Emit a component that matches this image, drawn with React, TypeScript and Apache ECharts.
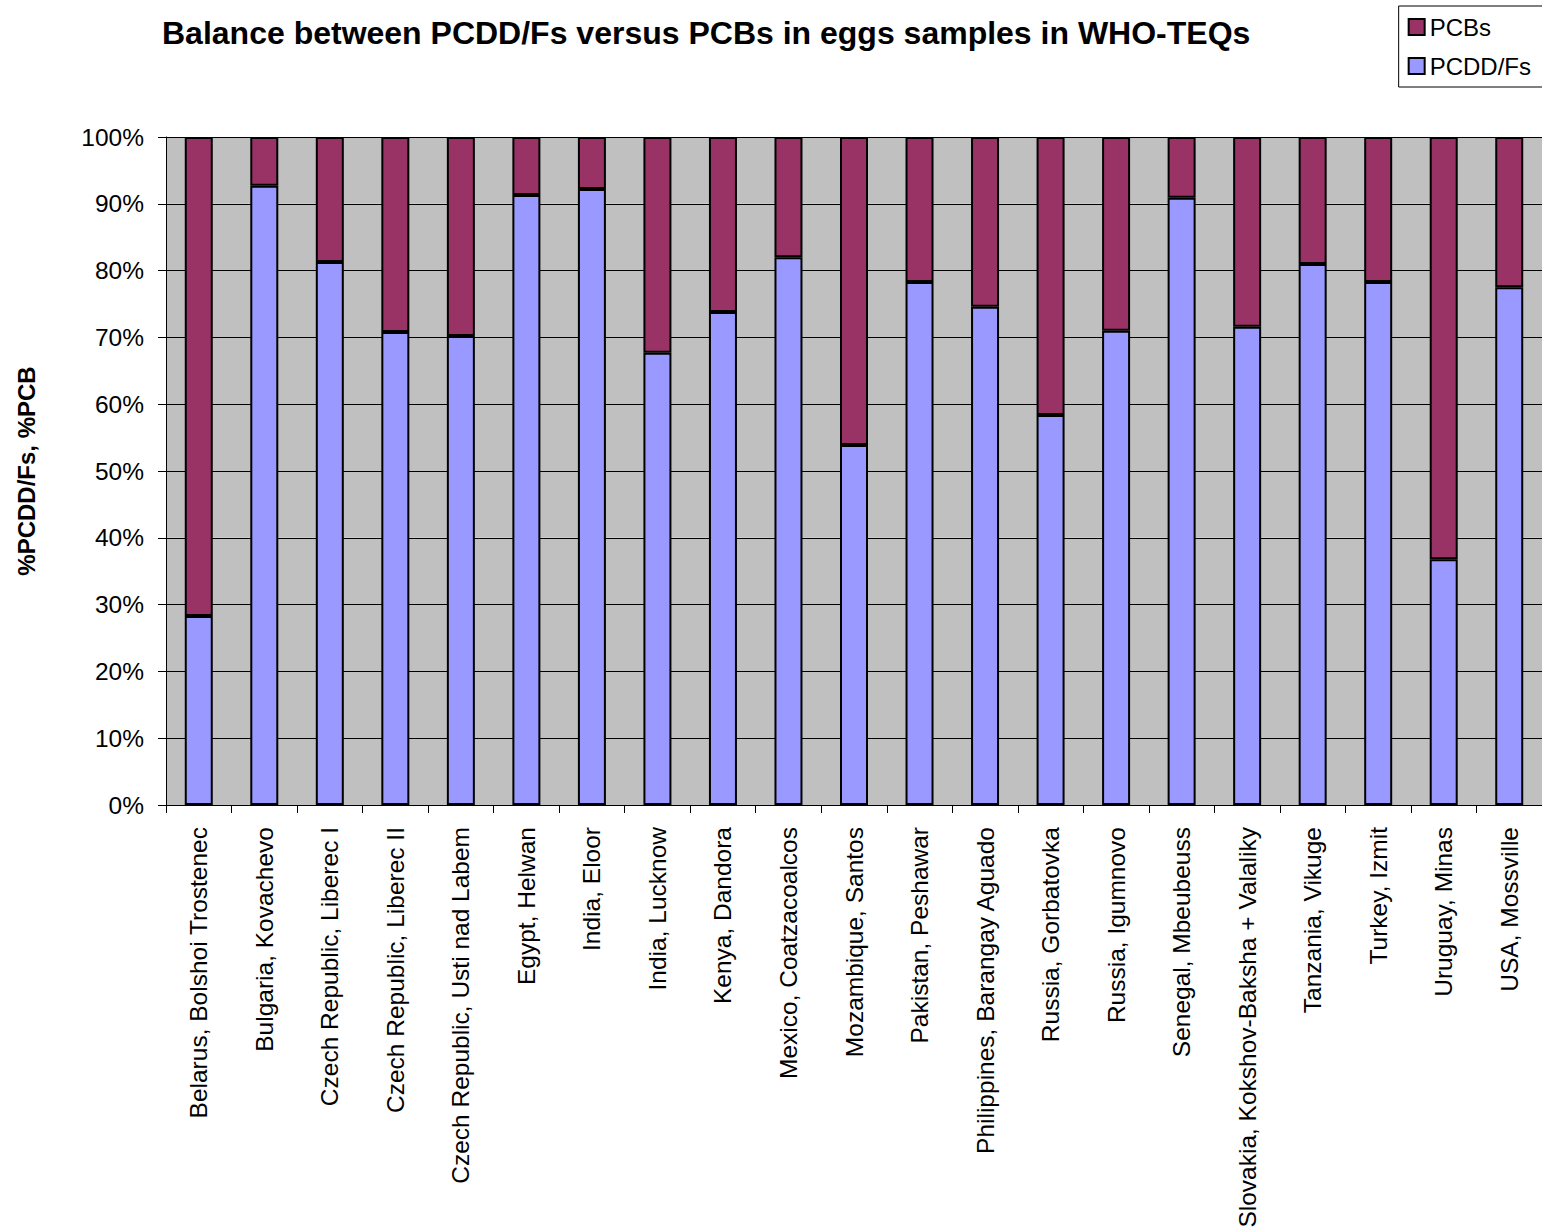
import React, { useEffect, useRef } from "react";
import * as echarts from "echarts";

const categories = [
  "Belarus, Bolshoi Trostenec",
  "Bulgaria, Kovachevo",
  "Czech Republic, Liberec I",
  "Czech Republic, Liberec II",
  "Czech Republic, Usti nad Labem",
  "Egypt, Helwan",
  "India, Eloor",
  "India, Lucknow",
  "Kenya, Dandora",
  "Mexico, Coatzacoalcos",
  "Mozambique, Santos",
  "Pakistan, Peshawar",
  "Philippines, Barangay Aguado",
  "Russia, Gorbatovka",
  "Russia, Igumnovo",
  "Senegal, Mbeubeuss",
  "Slovakia, Kokshov-Baksha + Valaliky",
  "Tanzania, Vikuge",
  "Turkey, Izmit",
  "Uruguay, Minas",
  "USA, Mossville",
];

const pcddfs = [28.3, 92.7, 81.3, 70.8, 70.2, 91.3, 92.2, 67.7, 73.8, 82.0, 53.9, 78.3, 74.6, 58.4, 71.0, 90.9, 71.6, 81.0, 78.3, 36.8, 77.5];
const pcbs = pcddfs.map((v) => +(100 - v).toFixed(1));

const yTicks = [0, 10, 20, 30, 40, 50, 60, 70, 80, 90, 100];

export default function App() {
  const ref = useRef<HTMLDivElement>(null);
  useEffect(() => {
    const chart = echarts.init(ref.current!, null, { renderer: "svg" });
    const font = "Arial, 'Liberation Sans', sans-serif";
    chart.setOption({
      animation: false,
      backgroundColor: "#ffffff",
      title: {
        text: "Balance between PCDD/Fs versus PCBs in eggs samples in WHO-TEQs",
        left: 157,
        top: 12,
        textStyle: { fontFamily: font, fontSize: 32, fontWeight: "bold", color: "#000" },
      },
      legend: {
        data: ["PCBs", "PCDD/Fs"],
        orient: "vertical",
        right: -3,
        top: 6,
        itemWidth: 16,
        itemHeight: 16,
        itemGap: 15,
        icon: "rect",
        padding: [9, 14, 9, 9],
        borderColor: "#000",
        borderWidth: 1,
        textStyle: { fontFamily: font, fontSize: 24, color: "#000" },
      },
      grid: { left: 166, right: -6, top: 137, bottom: 426 },
      xAxis: {
        type: "category",
        data: categories,
        axisLine: { lineStyle: { color: "#000", width: 1 } },
        axisTick: { show: true, length: 8, lineStyle: { color: "#000" } },
        axisLabel: {
          interval: 0,
          rotate: 90,
          margin: 22,
          fontFamily: font,
          fontSize: 24.5,
          color: "#000",
        },
        splitLine: { show: false },
      },
      yAxis: {
        type: "value",
        min: 0,
        max: 100,
        interval: 10,
        name: "%PCDD/Fs, %PCB",
        nameLocation: "middle",
        nameRotate: 90,
        nameGap: 128,
        nameTextStyle: { fontFamily: font, fontSize: 24, fontWeight: "bold", color: "#000" },
        axisLine: { show: true, lineStyle: { color: "#000", width: 1 } },
        axisTick: { show: true, length: 8, lineStyle: { color: "#000" } },
        axisLabel: {
          formatter: (v: number) => (yTicks.includes(v) ? v + "%" : ""),
          margin: 22,
          fontFamily: font,
          fontSize: 24.5,
          color: "#000",
        },
        splitLine: { show: true, lineStyle: { color: "#000", width: 1 } },
        splitArea: { show: true, areaStyle: { color: ["#C0C0C0", "#C0C0C0"] } },
      },
      series: [
        {
          name: "PCDD/Fs",
          type: "bar",
          stack: "total",
          barWidth: 28,
          data: pcddfs,
          itemStyle: { color: "#9999FF", borderColor: "#000", borderWidth: 2 },
        },
        {
          name: "PCBs",
          type: "bar",
          stack: "total",
          barWidth: 28,
          data: pcbs,
          itemStyle: { color: "#993366", borderColor: "#000", borderWidth: 2 },
        },
      ],
    });
    return () => chart.dispose();
  }, []);
  return (
    <div
      ref={ref}
      style={{ position: "absolute", left: 0, top: 0, width: 1542, height: 1231 }}
    />
  );
}
